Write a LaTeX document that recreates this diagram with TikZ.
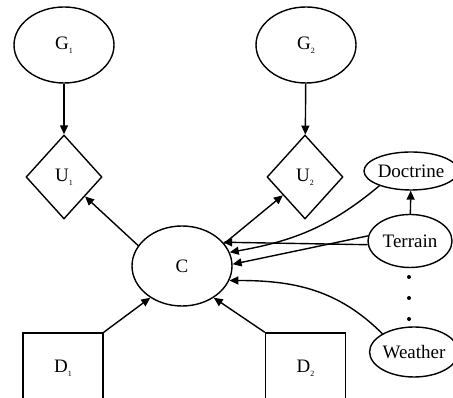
\documentclass[tikz,border=0pt]{standalone}
\usepackage{fontspec}
\setmainfont{Liberation Serif}
\usetikzlibrary{shapes.geometric,arrows.meta}
\newcommand\mysub[1]{\raisebox{-0.45ex}{\fontsize{8}{8}\selectfont #1}}
\tikzset{
  every node/.style={font=\fontsize{19}{21}\selectfont, inner sep=0pt},
  ell/.style={draw, ellipse, line width=1.4pt},
  dia/.style={draw, diamond, line width=1.4pt, minimum width=76pt, minimum height=84pt},
  box/.style={draw, rectangle, line width=1.4pt, minimum width=80pt, minimum height=70pt},
  arr/.style={line width=1.4pt, -{Triangle[length=9pt,width=8pt]}},
  dot/.style={circle, fill, minimum size=4pt}
}
\begin{document}
\begin{tikzpicture}[x=1pt,y=1pt]
\useasboundingbox (0,0) rectangle (453,398);
\clip (0,0) rectangle (453,398);
\node[ell, minimum width=100pt, minimum height=76pt] (G1) at (64,353) {G\mysub{1}};
\node[ell, minimum width=100pt, minimum height=76pt] (G2) at (306,353) {G\mysub{2}};
\node[dia] (U1) at (64,221) {U\mysub{1}};
\node[dia] (U2) at (305,221) {U\mysub{2}};
\node[ell, minimum width=100pt, minimum height=80pt] (C) at (182,132) {C};
\node[box] (D1) at (63,30) {D\mysub{1}};
\node[box] (D2) at (305.5,30) {D\mysub{2}};
\node[ell, minimum width=77pt, minimum height=38pt] (Doc) at (411,227) {Doctrine};
\node[ell, minimum width=84pt, minimum height=53pt] (Ter) at (410,157) {Terrain};
\node[ell, minimum width=77pt, minimum height=50pt] (Wea) at (414,46) {Weather};
\node[dot] (d1) at (409,121) {};
\node[dot] (d2) at (409,100) {};
\node[dot] (d3) at (409,79) {};
\draw[arr] (G1) -- (U1);
\draw[arr] (G2) -- (U2);
\draw[arr] (C.155) -- (U1);
\draw[arr] (C.28) -- (U2);
\draw[arr] (D1.north east) -- (C.225);
\draw[arr] (D2.north west) -- (C.-45);
\draw[arr] (Ter) -- (Doc);
\draw[arr] (Ter.185) -- (C.30);
\draw[arr] (Ter.173) -- (C.2);
\draw[arr] (Doc.205) to[out=220, in=10] (C.16);
\draw[arr] (Wea.150) to[out=135, in=0] (C.-17);
\end{tikzpicture}
\end{document}
